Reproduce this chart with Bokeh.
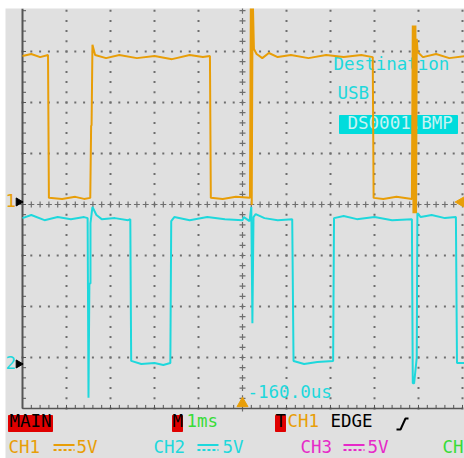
import numpy as np
from bokeh.plotting import figure
from bokeh.models import Range1d
from bokeh.core.properties import value
from bokeh.embed import file_html
from bokeh.resources import INLINE

# ---- scope settings ----
ms_per_div = 1.0
volts_per_div = 5.0
ch1_ground_div = 0.05
ch2_ground_div = -3.127
trigger_delay = "-160.0us"

# ---- CH1 trace (time ms, volts) ----
ch1_t = [-5.0, -4.8, -4.6, -4.42, -4.40, -4.1, -3.8, -3.6, -3.46, -3.44, -3.43, -3.41, -3.35,
         -3.1, -2.8, -2.4, -2.0, -1.6, -1.2, -0.9, -0.74, -0.72, -0.45, -0.15, 0.17, 0.19,
         0.21, 0.23, 0.26, 0.32, 0.45, 0.6, 0.8, 1.1, 1.5, 1.9, 2.3, 2.7, 2.96, 2.98, 3.2,
         3.5, 3.85, 3.87, 3.885, 3.90, 3.915, 3.93, 3.945, 3.96, 3.98, 4.1, 4.4, 4.7, 5.05]
ch1_v = [14.3, 14.5, 14.2, 14.4, 0.4, 0.3, 0.5, 0.3, 0.4, 7.5, 7.5, 15.4, 14.4,
         14.1, 14.4, 14.1, 14.3, 14.0, 14.4, 14.2, 14.3, 0.4, 0.3, 0.5, 0.4, 20.5,
         -0.3, 20.5, 15.0, 14.5, 14.1, 14.6, 14.2, 14.4, 14.1, 14.4, 14.2, 14.4, 14.2, 0.4, 0.3,
         0.5, 0.3, 17.3, -1.1, 17.3, -1.1, 17.3, -1.1, 16.0, 14.7, 14.2, 14.5, 14.1, 14.3]

# ---- CH2 trace (time ms, volts) ----
ch2_t = [-5.0, -4.8, -4.5, -4.2, -3.9, -3.6, -3.52, -3.50, -3.48, -3.455, -3.455, -3.41, -3.32,
         -3.2, -2.9, -2.6, -2.55, -2.53, -2.3, -2.0, -1.8, -1.64, -1.62, -1.55, -1.2, -0.8,
         -0.4, 0.0, 0.03, 0.16, 0.20, 0.225, 0.25, 0.30, 0.5, 0.8, 1.13, 1.16, 1.4, 1.7, 2.06,
         2.08, 2.3, 2.6, 3.0, 3.4, 3.85, 3.87, 3.90, 3.96, 3.975, 4.05, 4.3, 4.6, 4.85, 4.875, 5.05]
ch2_v = [14.3, 14.6, 14.1, 14.4, 14.2, 14.4, 14.3, -3.3, 7.9, 7.9, 13.8, 15.4, 14.6,
         14.2, 14.3, 14.1, 14.2, 0.3, 0.0, 0.1, -0.1, 0.1, 14.0, 14.4, 14.1, 14.4,
         14.2, 14.1, 14.4, 14.0, 15.4, 4.0, 14.4, 14.7, 14.3, 14.1, 14.2, 0.3, 0.0, 0.2, 0.3,
         14.3, 14.5, 14.2, 14.4, 14.1, 14.2, -1.9, -1.9, 0.6, 14.8, 14.4, 14.6, 14.3, 14.4, 0.1, 0.1]

ORANGE = "#e89e08"
CYAN = "#1ed8dc"
GREEN = "#38dc38"
MAGENTA = "#e62ac8"
RED = "#e00000"
GRAY = "#6e6e6e"
BG = "#e0e0e0"
FONT = value("DejaVu Sans Mono")
FS = "17.5px"
TS = 8.5  # vertical correction for text placement

# page pixel -> data helpers (screen centre at page (242, 204); 44 px/div, 51 px/div)
def X(px):
    return (px - 242) / 44.0

def Y(py):
    return (204 - py) / 51.0

def TY(py):
    return Y(py - TS)

p = figure(width=464, height=458, output_backend="svg", toolbar_location=None,
           x_range=Range1d(X(5), X(464)), y_range=Range1d(Y(458), Y(8)),
           min_border=0, min_border_left=5, min_border_right=0,
           min_border_top=8, min_border_bottom=0)
p.background_fill_color = BG
p.border_fill_color = "white"
p.outline_line_color = None
p.axis.visible = False
p.grid.visible = False

# ---- graticule ----
sub_x = np.round(np.arange(-5, 5.0001, 0.2), 3)
sub_y = np.round(np.arange(-4, 3.9, 0.2), 3)
dx, dy = [], []
for k in [-3, -2, -1, 1, 2, 3]:
    dx += list(sub_x); dy += [k] * len(sub_x)
for k in [-4, -3, -2, -1, 1, 2, 3, 4, 5]:
    dx += [k] * len(sub_y); dy += list(sub_y)
p.scatter(dx, dy, marker="square", size=2, color=GRAY, line_width=0)
p.scatter([0] * len(sub_y), list(sub_y), marker="cross", size=6, color=GRAY, line_width=1.2)
p.scatter(list(sub_x), [0] * len(sub_x), marker="cross", size=6, color=GRAY, line_width=1.2)
# border lines with ticks
p.line([-5, -5], [-4, Y(8)], color="#555555", line_width=2)
p.line([-5, 5], [-4, -4], color="#555555", line_width=1.5)
p.segment(x0=[-5] * len(sub_y), y0=list(sub_y), x1=[-5 + 0.08] * len(sub_y), y1=list(sub_y),
          color="#555555", line_width=1)
p.segment(x0=list(sub_x), y0=[-4] * len(sub_x), x1=list(sub_x), y1=[-4 + 0.07] * len(sub_x),
          color="#555555", line_width=1)

# ---- overlay texts in the screen (drawn under the traces) ----
p.quad(left=[X(339)], right=[X(457)], top=[Y(115)], bottom=[Y(133)], color="#00dcdc")
p.text(x=[X(333), X(337)], y=[TY(71.5), TY(101)], text=["Destination", "USB"],
       text_color=CYAN, text_font=FONT, text_font_size=FS, text_baseline="alphabetic")
p.text(x=[X(347)], y=[TY(131)], text=["DS0001.BMP"], text_color="#c8f2f2",
       text_font=FONT, text_font_size=FS, text_baseline="alphabetic")
p.text(x=[X(247)], y=[TY(400)], text=[trigger_delay], text_color=CYAN,
       text_font=FONT, text_font_size=FS, text_baseline="alphabetic")

# ---- traces ----
ch2_y = [v / volts_per_div + ch2_ground_div for v in ch2_v]
ch1_y = [v / volts_per_div + ch1_ground_div for v in ch1_v]
p.line([t / ms_per_div for t in ch2_t], ch2_y, color=CYAN, line_width=2)
p.line([t / ms_per_div for t in ch1_t], ch1_y, color=ORANGE, line_width=2)

# ---- channel / trigger markers ----
p.text(x=[X(5)], y=[TY(208)], text=["1"], text_color=ORANGE, text_font=FONT,
       text_font_size=FS, text_baseline="alphabetic")
p.text(x=[X(5)], y=[TY(370)], text=["2"], text_color=CYAN, text_font=FONT,
       text_font_size=FS, text_baseline="alphabetic")
p.scatter([X(18), X(18)], [ch1_ground_div, ch2_ground_div], marker="triangle",
          angle=-np.pi / 2, size=8, color="black")
p.scatter([0], [Y(403)], marker="triangle", size=11, color=ORANGE)
p.scatter([X(461)], [Y(201.5)], marker="triangle", angle=np.pi / 2, size=11, color=ORANGE)

# ---- status bar ----
p.quad(left=[X(8), X(172), X(275)], right=[X(52), X(182), X(285)],
       top=[Y(415)] * 3, bottom=[Y(431)] * 3, color=RED)
p.text(x=[X(9), X(172), X(275), X(330)], y=[TY(429)] * 4, text=["MAIN", "M", "T", "EDGE"],
       text_color="black", text_font=FONT, text_font_size=FS, text_baseline="alphabetic")
p.text(x=[X(186)], y=[TY(429)], text=["1ms"], text_color=GREEN, text_font=FONT,
       text_font_size=FS, text_baseline="alphabetic")
p.text(x=[X(287)], y=[TY(429)], text=["CH1"], text_color=ORANGE, text_font=FONT,
       text_font_size=FS, text_baseline="alphabetic")
p.line([X(396), X(400), X(405), X(408)], [Y(429), Y(429), Y(418), Y(418)],
       color="black", line_width=2)

row2 = [("CH1", ORANGE, 8, 53, 76), ("CH2", CYAN, 153, 197, 222), ("CH3", MAGENTA, 300, 343, 367)]
for name, col, xn, xs, xv in row2:
    p.text(x=[X(xn), X(xv)], y=[TY(455)] * 2, text=[name, "5V"], text_color=col,
           text_font=FONT, text_font_size=FS, text_baseline="alphabetic")
    p.line([X(xs), X(xs + 21)], [Y(444.5)] * 2, color=col, line_width=2)
    p.line([X(xs), X(xs + 21)], [Y(449.5)] * 2, color=col, line_width=2, line_dash="3 2")
p.text(x=[X(442)], y=[TY(455)], text=["CH"], text_color=GREEN, text_font=FONT,
       text_font_size=FS, text_baseline="alphabetic")

open("out.html", "w").write(file_html(p, INLINE))
